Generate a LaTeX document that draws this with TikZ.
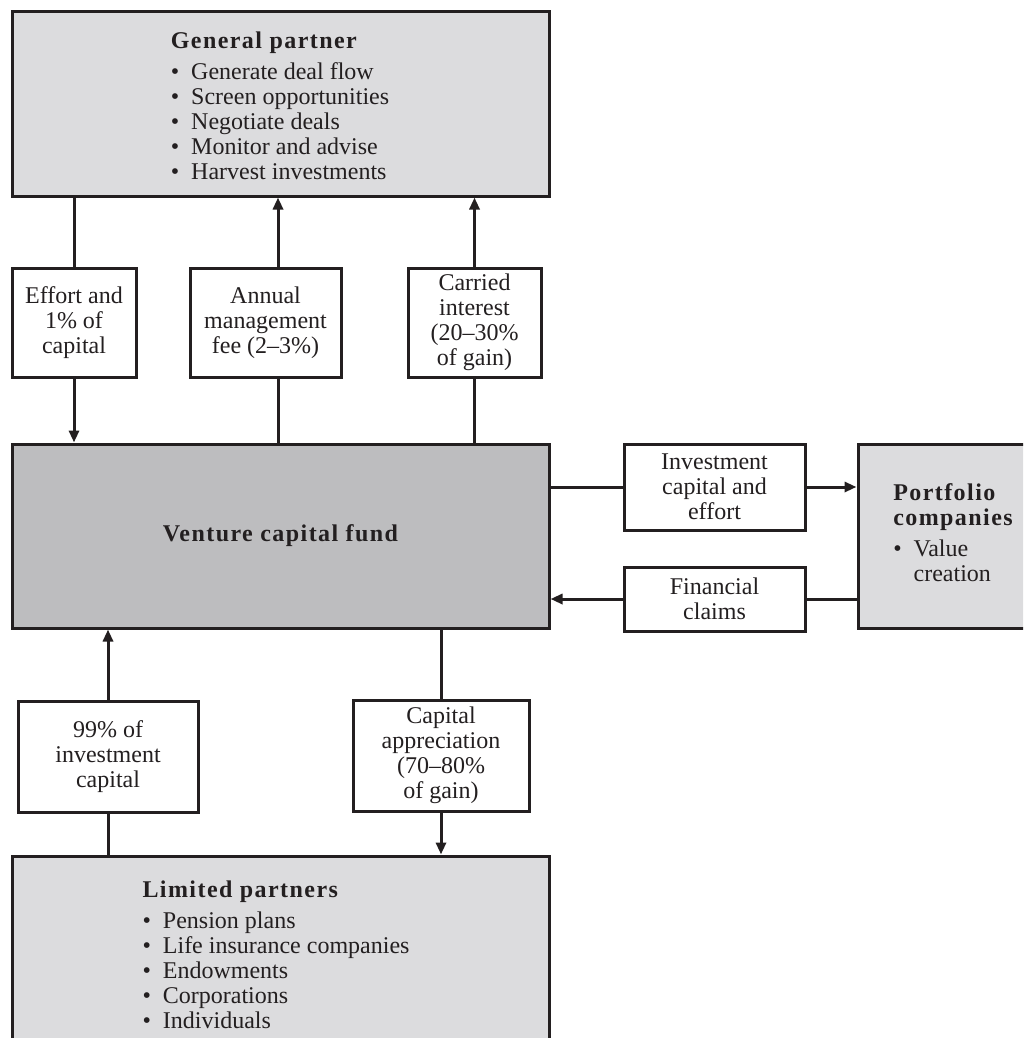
\documentclass[tikz,border=0pt]{standalone}
\usepackage{fontspec}
\setmainfont{Liberation Serif}
\newfontfamily\ttlfont[LetterSpace=6]{Liberation Serif}
\usetikzlibrary{arrows.meta}
\definecolor{ink}{HTML}{231F20}
\definecolor{lightbox}{HTML}{DCDCDE}
\definecolor{darkbox}{HTML}{BDBDBF}
\begin{document}
\begin{tikzpicture}[x=1pt,y=-1pt,
  box/.style={draw=ink, line width=3pt, inner sep=0pt, text=ink,
    font=\fontsize{24}{25}\selectfont, align=center},
  lbl/.style={box, fill=white},
  bigbox/.style={box, fill=lightbox},
  txt/.style={inner sep=0pt, text=ink, font=\fontsize{24}{25}\selectfont, align=left},
  conn/.style={draw=ink, line width=3pt},
  arr/.style={conn, -{Triangle[length=12pt,width=10pt]}}]
\useasboundingbox (0,0) rectangle (1023,1038);
\clip (0,0) rectangle (1023,1038);
% boxes
\node[bigbox, minimum width=537pt, minimum height=184pt] (gp) at (280.5,104) {};
\node[lbl, minimum width=124pt, minimum height=109pt] (effort) at (74,322.5) {Effort and\\1\% of\\capital};
\node[lbl, minimum width=151pt, minimum height=109pt] (annual) at (265.5,322.5) {Annual\\management\\fee (2–3\%)};
\node[lbl, minimum width=133pt, minimum height=109pt] (carried) at (474.5,322.5) {Carried\\interest\\(20–30\%\\of gain)};
\node[box, fill=darkbox, minimum width=537pt, minimum height=184pt] (vc) at (280.5,536) {\ttlfont\bfseries Venture capital fund};
\node[lbl, minimum width=181pt, minimum height=86pt] (invest) at (714.5,487) {Investment\\capital and\\effort};
\node[lbl, minimum width=181pt, minimum height=64pt] (financial) at (714.5,599) {Financial\\claims};
\node[bigbox, minimum width=182pt, minimum height=184pt] (portfolio) at (949,536) {};
\node[lbl, minimum width=180pt, minimum height=111pt] (ninetynine) at (108,756.5) {99\% of\\investment\\capital};
\node[lbl, minimum width=176pt, minimum height=111pt] (capapp) at (441,755.5) {Capital\\appreciation\\(70–80\%\\of gain)};
\node[bigbox, minimum width=537pt, minimum height=190pt] (lp) at (280.5,951) {};
% texts in the big boxes
\node[txt] (gptext) at (280,106) {{\ttlfont\bfseries General partner}\\[6pt]
  \textbullet\enspace Generate deal flow\\
  \textbullet\enspace Screen opportunities\\
  \textbullet\enspace Negotiate deals\\
  \textbullet\enspace Monitor and advise\\
  \textbullet\enspace Harvest investments};
\node[txt] (ptext) at (953,533) {{\ttlfont\bfseries Portfolio}\\
  {\ttlfont\bfseries companies}\\[6pt]
  \textbullet\enspace Value\\
  \phantom{\textbullet\enspace}creation};
\node[txt] (lptext) at (276,955) {{\ttlfont\bfseries Limited partners}\\[6pt]
  \textbullet\enspace Pension plans\\
  \textbullet\enspace Life insurance companies\\
  \textbullet\enspace Endowments\\
  \textbullet\enspace Corporations\\
  \textbullet\enspace Individuals};
% connectors
\coordinate (annx) at ([xshift=12.5pt]annual.north);
\draw[conn] (gp.south -| effort.north) -- (effort.north);
\draw[arr] (effort.south) -- (effort.south |- vc.north);
\draw[conn] (vc.north -| annx) -- (annual.south -| annx);
\draw[arr] (annual.north -| annx) -- (gp.south -| annx);
\draw[conn] (vc.north -| carried.south) -- (carried.south);
\draw[arr] (carried.north) -- (carried.north |- gp.south);
\draw[conn] (vc.east |- invest.west) -- (invest.west);
\draw[arr] (invest.east) -- (invest.east -| portfolio.west);
\draw[conn] (portfolio.west |- financial.east) -- (financial.east);
\draw[arr] (financial.west) -- (financial.west -| vc.east);
\draw[conn] (lp.north -| ninetynine.south) -- (ninetynine.south);
\draw[arr] (ninetynine.north) -- (ninetynine.north |- vc.south);
\draw[conn] (vc.south -| capapp.north) -- (capapp.north);
\draw[arr] (capapp.south) -- (capapp.south |- lp.north);
\end{tikzpicture}
\end{document}
